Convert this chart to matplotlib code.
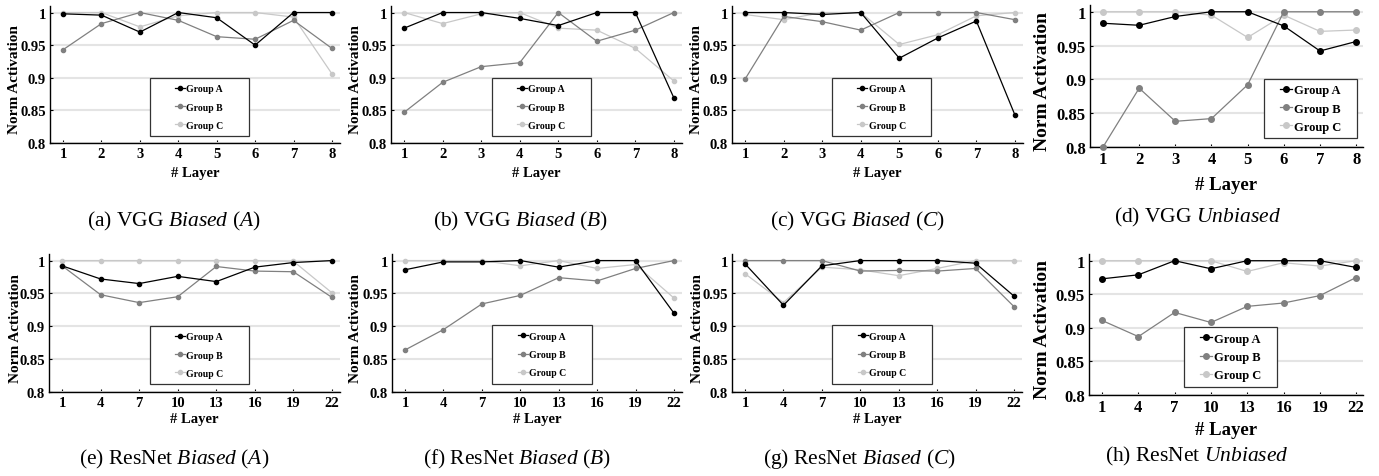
import matplotlib
matplotlib.use("Agg")
import matplotlib.pyplot as plt
from matplotlib.patches import Rectangle

# layer indices
vgg_layers = [1, 2, 3, 4, 5, 6, 7, 8]
resnet_layers = [1, 4, 7, 10, 13, 16, 19, 22]
y_ticks = [0.8, 0.85, 0.9, 0.95, 1.0]
y_tick_labels = ["0.8", "0.85", "0.9", "0.95", "1"]
group_names = ["Group A", "Group B", "Group C"]

# (a) VGG biased A
vgg_a_A = [0.998, 0.996, 0.970, 1.0, 0.992, 0.950, 1.0, 1.0]
vgg_a_B = [0.943, 0.983, 1.0, 0.988, 0.963, 0.959, 0.988, 0.945]
vgg_a_C = [1.0, 1.0, 0.978, 0.995, 1.0, 1.0, 0.993, 0.906]
# (b) VGG biased B
vgg_b_A = [0.976, 1.0, 1.0, 0.991, 0.980, 1.0, 1.0, 0.869]
vgg_b_B = [0.847, 0.893, 0.917, 0.923, 1.0, 0.956, 0.973, 1.0]
vgg_b_C = [1.0, 0.983, 0.998, 1.0, 0.976, 0.973, 0.945, 0.895]
# (c) VGG biased C
vgg_c_A = [1.0, 1.0, 0.997, 1.0, 0.930, 0.961, 0.987, 0.843]
vgg_c_B = [0.898, 0.994, 0.986, 0.973, 1.0, 1.0, 1.0, 0.989]
vgg_c_C = [0.997, 0.989, 1.0, 1.0, 0.951, 0.966, 0.995, 1.0]
# (d) VGG unbiased
vgg_u_A = [0.983, 0.980, 0.993, 1.0, 1.0, 0.979, 0.942, 0.956]
vgg_u_B = [0.800, 0.887, 0.838, 0.842, 0.892, 1.0, 1.0, 1.0]
vgg_u_C = [1.0, 1.0, 1.0, 0.995, 0.962, 0.995, 0.971, 0.973]
# (e) ResNet biased A
res_a_A = [0.992, 0.972, 0.965, 0.976, 0.968, 0.990, 0.997, 1.0]
res_a_B = [0.992, 0.948, 0.936, 0.945, 0.991, 0.984, 0.983, 0.944]
res_a_C = [1.0, 1.0, 1.0, 1.0, 1.0, 1.0, 0.999, 0.951]
# (f) ResNet biased B
res_b_A = [0.986, 0.998, 0.998, 1.0, 0.990, 1.0, 1.0, 0.920]
res_b_B = [0.864, 0.895, 0.934, 0.947, 0.974, 0.969, 0.988, 1.0]
res_b_C = [1.0, 1.0, 1.0, 0.992, 1.0, 0.988, 0.994, 0.943]
# (g) ResNet biased C
res_c_A = [0.995, 0.932, 0.992, 1.0, 1.0, 1.0, 0.996, 0.946]
res_c_B = [1.0, 1.0, 1.0, 0.984, 0.985, 0.984, 0.988, 0.930]
res_c_C = [0.980, 0.936, 0.990, 0.986, 0.977, 0.988, 1.0, 1.0]
# (h) ResNet unbiased
res_u_A = [0.973, 0.979, 1.0, 0.988, 1.0, 1.0, 1.0, 0.990]
res_u_B = [0.911, 0.887, 0.923, 0.908, 0.932, 0.937, 0.948, 0.975]
res_u_C = [1.0, 1.0, 1.0, 1.0, 0.984, 0.997, 0.992, 1.0]

captions = [
    r"(a) VGG $\mathit{Biased}$ ($\mathit{A}$)",
    r"(b) VGG $\mathit{Biased}$ ($\mathit{B}$)",
    r"(c) VGG $\mathit{Biased}$ ($\mathit{C}$)",
    r"(d) VGG $\mathit{Unbiased}$",
    r"(e) ResNet $\mathit{Biased}$ ($\mathit{A}$)",
    r"(f) ResNet $\mathit{Biased}$ ($\mathit{B}$)",
    r"(g) ResNet $\mathit{Biased}$ ($\mathit{C}$)",
    r"(h) ResNet $\mathit{Unbiased}$",
]

colors = ["#000000", "#808080", "#c8c8c8"]

plt.rcParams["font.family"] = "Liberation Serif"
plt.rcParams["mathtext.fontset"] = "custom"
plt.rcParams["mathtext.rm"] = "Liberation Serif"
plt.rcParams["mathtext.it"] = "Liberation Serif:italic"

W, H = 1379, 477
fig = plt.figure(figsize=(W / 100, H / 100), dpi=100)


def px(l, t, r, b):
    return [l / W, 1 - b / H, (r - l) / W, (b - t) / H]


panels = [
    (vgg_layers, vgg_a_A, vgg_a_B, vgg_a_C),
    (vgg_layers, vgg_b_A, vgg_b_B, vgg_b_C),
    (vgg_layers, vgg_c_A, vgg_c_B, vgg_c_C),
    (vgg_layers, vgg_u_A, vgg_u_B, vgg_u_C),
    (resnet_layers, res_a_A, res_a_B, res_a_C),
    (resnet_layers, res_b_A, res_b_B, res_b_C),
    (resnet_layers, res_c_A, res_c_B, res_c_C),
    (resnet_layers, res_u_A, res_u_B, res_u_C),
]

# layout: axes box (px), big fonts?, legend box (axes frac), ylabel x, xlabel y, caption center (px)
layout = [
    ((50, 7, 340, 144), False, (0.345, 0.051, 0.341, 0.423), -0.10, -0.168, (174, 221)),
    ((391, 7, 682, 144), False, (0.347, 0.051, 0.340, 0.423), -0.10, -0.168, (520, 221)),
    ((732, 7, 1023, 144), False, (0.344, 0.051, 0.340, 0.423), -0.10, -0.168, (857, 221)),
    ((1090, 6, 1363, 148), True, (0.637, 0.063, 0.341, 0.416), -0.143, -0.204, (1197, 217)),
    ((49, 255, 340, 393), False, (0.347, 0.058, 0.340, 0.420), -0.093, -0.145, (174, 459)),
    ((392, 255, 682, 393), False, (0.345, 0.058, 0.345, 0.428), -0.103, -0.145, (517, 459)),
    ((732, 255, 1022, 393), False, (0.345, 0.058, 0.345, 0.428), -0.097, -0.145, (859, 459)),
    ((1089, 255, 1363, 396), True, (0.347, 0.057, 0.339, 0.425), -0.139, -0.184, (1197, 456)),
]

for (xs, a, b, c), (box, big, leg, ylx, xly, cap), caption in zip(panels, layout, captions):
    ax = fig.add_axes(px(*box))
    ms = 4 if big else 3
    for vals, col, name, z in zip((a, b, c), colors, group_names, (4, 3, 2)):
        ax.plot(xs, vals, color=col, marker="o", markersize=ms, linewidth=0.9,
                label=name, zorder=z, clip_on=False)

    step = xs[1] - xs[0]
    if big:
        ax.set_xlim(xs[0] - 0.36 * step, xs[-1] + 0.19 * step)
    else:
        ax.set_xlim(xs[0] - 0.34 * step, xs[-1] + 0.21 * step)
    ax.set_ylim(0.8, 1.01)
    ax.set_xticks(xs)
    ax.set_yticks(y_ticks)
    ax.set_yticklabels(y_tick_labels)

    tick_fs = 12 if big else 10.5
    label_fs = 13.5 if big else 10.5
    leg_fs = 9 if big else 7
    ax.tick_params(direction="in", length=2.5, width=0.8, labelsize=tick_fs, pad=3)
    for t in ax.get_xticklabels() + ax.get_yticklabels():
        t.set_fontweight("bold")
    ax.set_xlabel("# Layer", fontsize=label_fs, fontweight="bold")
    ax.set_ylabel("Norm Activation", fontsize=label_fs + 0.5, fontweight="bold")
    ax.yaxis.set_label_coords(ylx, 0.47)
    ax.xaxis.set_label_coords(0.5, xly)
    ax.xaxis.label.set_va("top")

    ax.spines["top"].set_visible(False)
    ax.spines["right"].set_visible(False)
    ax.spines["left"].set_linewidth(1.0)
    ax.spines["bottom"].set_linewidth(1.0)
    ax.grid(axis="y", color="#e4e4e4", linewidth=1.5, zorder=0)
    ax.set_axisbelow(True)

    x0, y0, w, h = leg
    ax.add_patch(Rectangle((x0, y0), w, h, transform=ax.transAxes, facecolor="white",
                           edgecolor="#333333", linewidth=0.9, zorder=5))
    lg = ax.legend(loc="center", bbox_to_anchor=(x0 + w / 2, y0 + h / 2), frameon=False,
                   prop={"size": leg_fs, "weight": "bold"}, handlelength=1.0,
                   handletextpad=0.15, labelspacing=0.95 if not big else 0.5,
                   borderpad=0.2)
    lg.set_zorder(6)

    fig.text(cap[0] / W, 1 - cap[1] / H, caption, ha="center", va="center", fontsize=15.5)

fig.savefig("out.png", dpi=100)
